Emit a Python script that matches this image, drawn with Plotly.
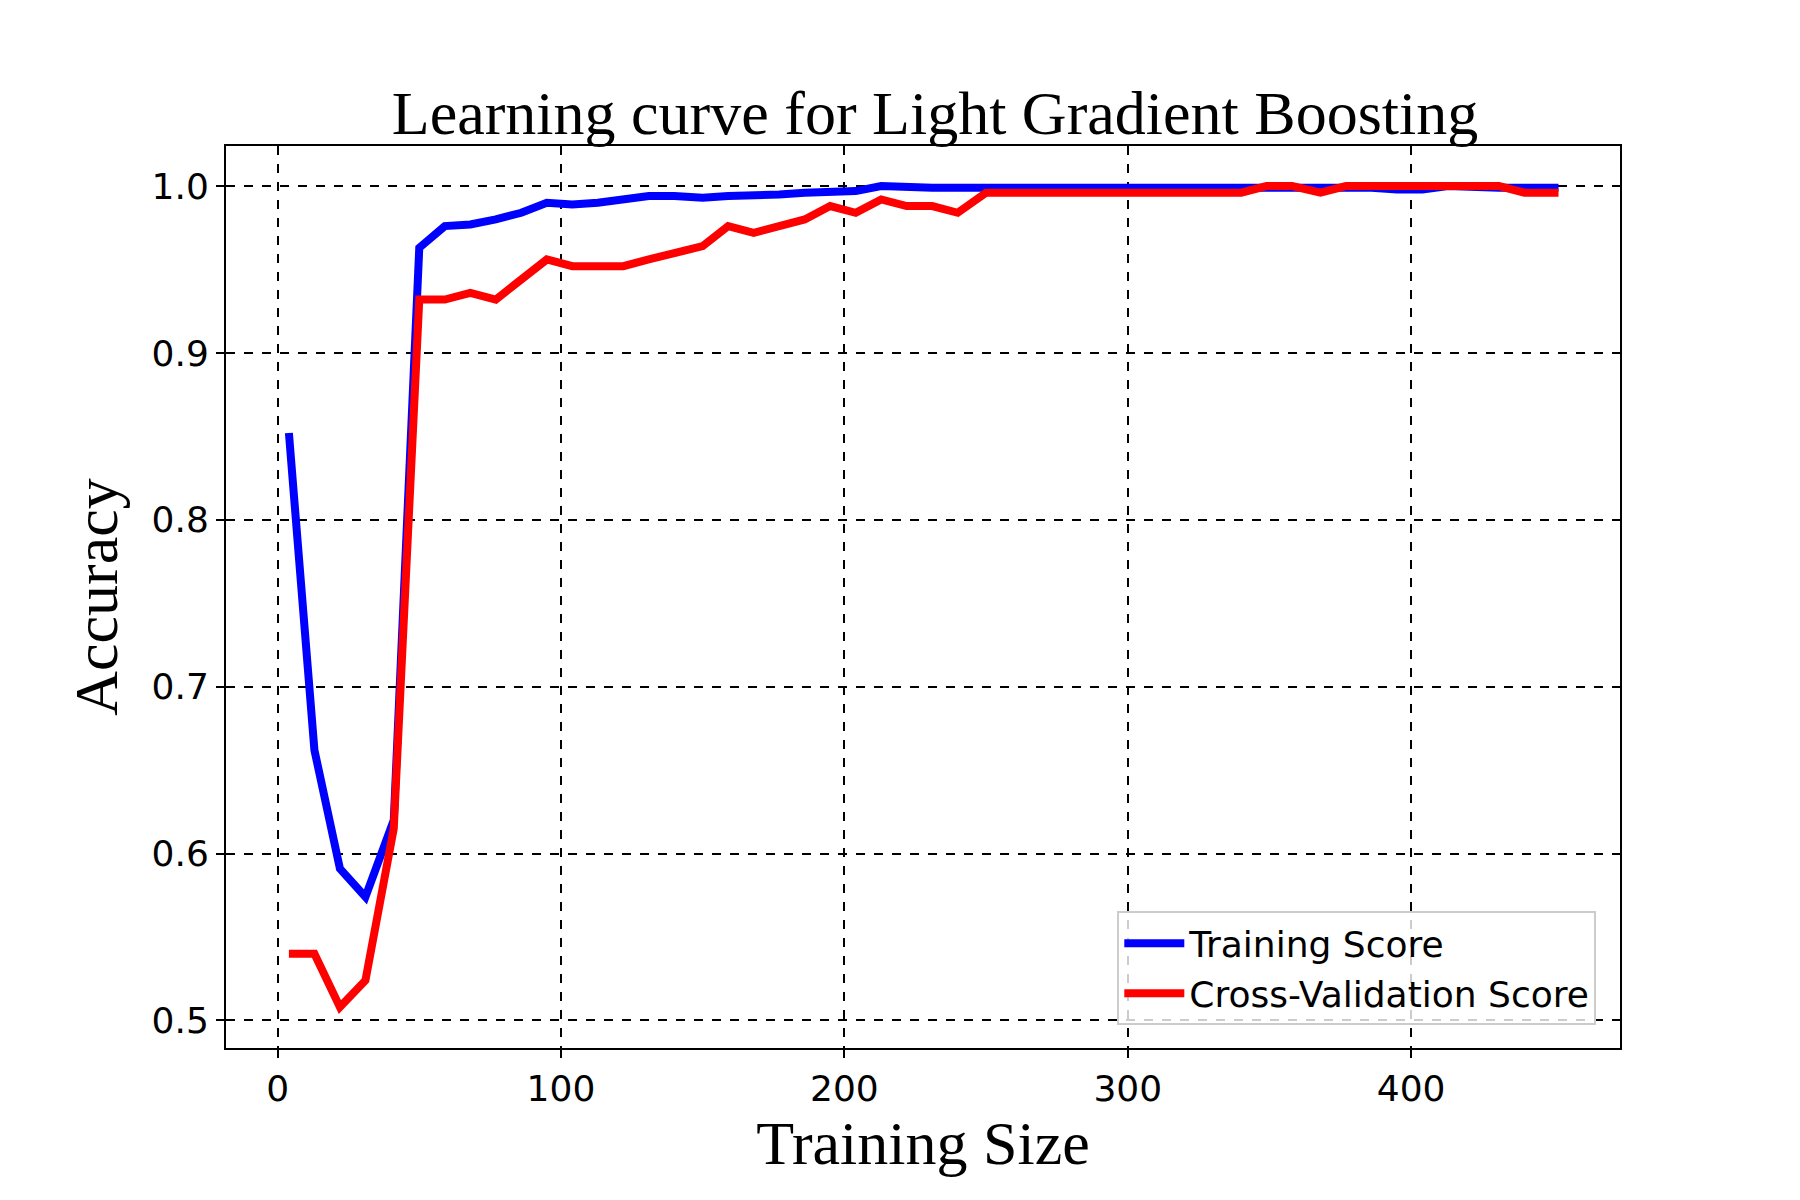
import plotly.graph_objects as go

train_size = [4, 13, 22, 31, 41, 50, 59, 68, 77, 86, 95, 104, 113, 122, 131, 140, 150, 159, 168, 177,
              186, 195, 204, 213, 222, 231, 240, 250, 259, 268, 277, 286, 295, 304, 313, 322, 331, 340,
              349, 358, 368, 377, 386, 395, 404, 413, 422, 431, 440, 452]
train_score = [0.852, 0.662, 0.591, 0.574, 0.62, 0.963, 0.976, 0.977, 0.980, 0.984, 0.990, 0.989, 0.990,
               0.992, 0.994, 0.994, 0.993, 0.994, 0.994, 0.995, 0.996, 0.996, 0.997, 1.0, 0.999, 0.999,
               0.999, 0.999, 1.0, 0.999, 0.999, 1.0, 0.999, 1.0, 1.0, 0.999, 0.999, 0.999, 0.999, 0.999,
               0.999, 0.999, 0.999, 0.998, 0.998, 1.0, 0.999, 0.999, 0.999, 0.999]
cv_score = [0.540, 0.540, 0.508, 0.524, 0.615, 0.932, 0.932, 0.936, 0.932, 0.944, 0.956, 0.952, 0.952,
            0.952, 0.956, 0.960, 0.964, 0.976, 0.972, 0.976, 0.980, 0.988, 0.984, 0.992, 0.988, 0.988,
            0.984, 0.996, 0.996, 0.996, 0.996, 0.996, 0.996, 0.996, 0.996, 0.996, 0.996, 0.996, 1.0, 1.0,
            0.996, 1.0, 1.0, 1.0, 1.0, 1.0, 1.0, 1.0, 0.996, 0.996]

fig = go.Figure()
fig.add_trace(go.Scatter(x=train_size, y=train_score, mode="lines", name="Training Score",
                         line=dict(color="blue", width=8)))
fig.add_trace(go.Scatter(x=train_size, y=cv_score, mode="lines", name="Cross-Validation Score",
                         line=dict(color="red", width=8)))

axis = dict(showline=True, linecolor="black", linewidth=2, mirror=True, ticks="outside",
            tickcolor="black", ticklen=8, tickwidth=2, showgrid=True, gridcolor="black",
            griddash="dash", gridwidth=2, zeroline=False,
            tickfont=dict(family="DejaVu Sans", size=36, color="black"))

fig.update_layout(
    width=1800, height=1200, paper_bgcolor="white", plot_bgcolor="white",
    margin=dict(l=218, r=188, t=138, b=160, autoexpand=False),
    title=dict(text="Learning curve for Light Gradient Boosting", x=0.515, xanchor="center",
               y=0.895, yanchor="bottom",
               font=dict(family="Liberation Serif", size=62, color="black")),
    xaxis=dict(axis, range=[-18.2, 473.7], tickvals=[0, 100, 200, 300, 400],
               title=dict(text="Training Size", standoff=12,
                          font=dict(family="Liberation Serif", size=62, color="black"))),
    yaxis=dict(axis, range=[0.4835, 1.024], tickvals=[0.5, 0.6, 0.7, 0.8, 0.9, 1.0],
               tickformat=".1f",
               title=dict(text="Accuracy", standoff=14,
                          font=dict(family="Liberation Serif", size=62, color="black"))),
    legend=dict(x=0.983, y=0.025, xanchor="right", yanchor="bottom", bgcolor="rgba(255,255,255,0.8)",
                bordercolor="#cccccc", borderwidth=2, itemwidth=60,
                font=dict(family="DejaVu Sans", size=36, color="black")),
)
fig.write_html("out.html")
